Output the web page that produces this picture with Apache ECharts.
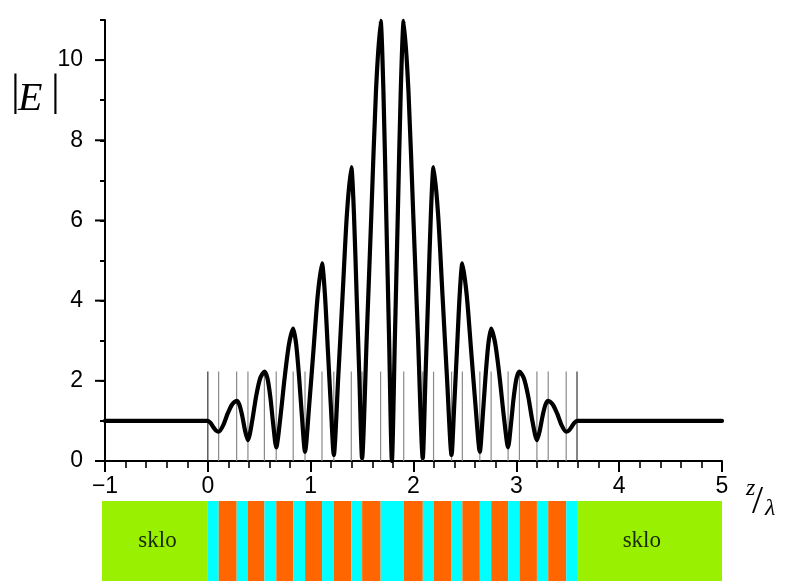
<!DOCTYPE html>
<html><head><meta charset="utf-8">
<script src="https://cdn.jsdelivr.net/npm/echarts@6/dist/echarts.min.js"></script>
<style>html,body{margin:0;padding:0;background:#fff}#c{width:785px;height:581px;background:#fff}</style>
</head><body><div id="c"></div>
<script>
// ---- data ----
const zPositions = [-1, 0, 0.026, 0.052, 0.079, 0.105, 0.149, 0.1925, 0.236, 0.28, 0.3075, 0.335, 0.3625, 0.39,
  0.43, 0.47, 0.51, 0.55, 0.579, 0.6075, 0.636, 0.665, 0.706, 0.7475, 0.789, 0.83, 0.859, 0.8875, 0.916, 0.945,
  0.986, 1.0275, 1.069, 1.11, 1.139, 1.1675, 1.196, 1.225, 1.2675, 1.31, 1.3525, 1.395, 1.421, 1.4475, 1.474, 1.50,
  1.545, 1.59, 1.635, 1.68, 1.7075, 1.735, 1.7625, 1.79, 1.819, 1.8475, 1.876, 1.905,
  1.951, 1.9975, 2.044, 2.09, 2.116, 2.1425, 2.169, 2.195, 2.239, 2.2825, 2.326, 2.37, 2.396, 2.4225, 2.449, 2.475,
  2.5175, 2.56, 2.6025, 2.645, 2.6725, 2.70, 2.7275, 2.755, 2.796, 2.8375, 2.879, 2.92, 2.9475, 2.975, 3.0025, 3.03,
  3.0725, 3.115, 3.1575, 3.20, 3.2275, 3.255, 3.2825, 3.31, 3.354, 3.3975, 3.441, 3.485, 3.511, 3.5375, 3.564, 3.59, 5];
const fieldValues = [1.0, 1.0, 0.95, 0.85, 0.76, 0.73, 0.89, 1.18, 1.41, 1.50, 1.40, 1.12, 0.75, 0.52,
  0.98, 1.62, 2.07, 2.23, 2.07, 1.60, 0.91, 0.34, 1.10, 2.09, 2.91, 3.30, 2.91, 2.09, 1.08, 0.23,
  1.40, 2.77, 4.14, 4.93, 4.14, 2.76, 1.39, 0.15, 2.06, 4.11, 6.16, 7.33, 6.16, 4.10, 2.05, 0.07,
  3.07, 6.15, 9.22, 10.98, 9.22, 6.15, 3.07, 0.0, 3.07, 6.15, 9.22, 10.98,
  9.22, 6.15, 3.07, 0.07, 2.05, 4.10, 6.16, 7.33, 6.16, 4.11, 2.06, 0.15, 1.39, 2.76, 4.14, 4.93,
  4.14, 2.77, 1.40, 0.23, 1.08, 2.09, 2.91, 3.30, 2.91, 2.09, 1.10, 0.34, 0.91, 1.60, 2.07, 2.23,
  2.07, 1.62, 0.98, 0.52, 0.75, 1.12, 1.40, 1.50, 1.41, 1.18, 0.89, 0.73, 0.76, 0.85, 0.95, 1.0, 1.0];

const layerEdges = [0, 0.105, 0.28, 0.39, 0.55, 0.665, 0.83, 0.945, 1.11, 1.225, 1.395, 1.50, 1.68,
  1.905, 2.09, 2.195, 2.37, 2.475, 2.645, 2.755, 2.92, 3.03, 3.20, 3.31, 3.485, 3.59];
const layerMaterials = ['H','L','H','L','H','L','H','L','H','L','H','L','H',
  'L','H','L','H','L','H','L','H','L','H','L','H'];
const edgeLineTop = 2.23;
const glassRegions = [[-1.03, 0], [3.59, 5]];
const glassLabels = [[-0.49, 'sklo'], [4.22, 'sklo']];

const xMin = -1, xMax = 5, xStep = 1;
const yMin = 0, yMax = 11, yStep = 1;
const yLabelValues = [0, 2, 4, 6, 8, 10];
const yMajorTicks = [0, 2, 4, 6, 8, 10];

// ---- chart ----
const materialColor = { H: '#00ffff', L: '#ff6600', G: '#99f000' };
const blocks = [];
glassRegions.forEach(r => blocks.push([r[0], r[1], 'G']));
for (let i = 0; i < layerMaterials.length; i++) blocks.push([layerEdges[i], layerEdges[i + 1], layerMaterials[i]]);

const curve = zPositions.map((z, i) => [z, fieldValues[i]]);
const tickFont = { fontFamily: 'Liberation Sans', fontSize: 23, color: '#000' };

const chart = echarts.init(document.getElementById('c'), null, { renderer: 'canvas' });
chart.setOption({
  animation: false,
  grid: [
    { left: 105, top: 20, width: 617, height: 441 },
    { left: 102, top: 501, width: 620, height: 80 }
  ],
  xAxis: [
    { type: 'value', gridIndex: 0, min: xMin, max: xMax, interval: xStep,
      axisLine: { show: true, onZero: false, lineStyle: { color: '#000', width: 2 } },
      axisTick: { length: 11, lineStyle: { color: '#000', width: 2 } },
      minorTick: { show: true, splitNumber: 5, length: 7, lineStyle: { color: '#000', width: 1.6 } },
      axisLabel: Object.assign({ margin: 14, formatter: v => String(v).replace('-', '\u2212') }, tickFont),
      splitLine: { show: false } },
    { type: 'value', gridIndex: 1, min: glassRegions[0][0], max: xMax, show: false }
  ],
  yAxis: [
    { type: 'value', gridIndex: 0, min: yMin, max: yMax, interval: yStep,
      axisLine: { show: true, onZero: false, lineStyle: { color: '#000', width: 2 } },
      axisTick: { show: true, length: 5, lineStyle: { color: '#000', width: 2 } },
      axisLabel: Object.assign({ margin: 22,
        formatter: v => (yLabelValues.indexOf(v) >= 0 ? String(v) : '') }, tickFont),
      splitLine: { show: false } },
    { type: 'value', gridIndex: 1, min: 0, max: 1, show: false }
  ],
  series: [
    { type: 'custom', xAxisIndex: 0, yAxisIndex: 0, z: 1, silent: true, clip: false,
      data: layerEdges.map(z => [z, edgeLineTop]),
      renderItem: (params, api) => {
        const p0 = api.coord([api.value(0), 0]);
        const p1 = api.coord([api.value(0), api.value(1)]);
        const outer = params.dataIndex === 0 || params.dataIndex === layerEdges.length - 1;
        return { type: 'line', shape: { x1: p0[0], y1: p0[1], x2: p1[0], y2: p1[1] },
          style: { stroke: outer ? '#333' : '#8a8a8a', lineWidth: 1.2 } };
      } },
    // y axis frame line + long ticks, drawn through the axis scales
    { type: 'custom', xAxisIndex: 0, yAxisIndex: 0, z: 10, silent: true, clip: false,
      data: yMajorTicks.map(v => [xMin, v]),
      renderItem: (params, api) => {
        const p = api.coord([xMin, api.value(1)]);
        const children = [{ type: 'line', shape: { x1: p[0] - 10, y1: p[1], x2: p[0], y2: p[1] },
          style: { stroke: '#000', lineWidth: 2 } }];
        if (params.dataIndex === 0) {
          const a = api.coord([xMin, yMin]);
          const b = api.coord([xMin, yMax]);
          children.push({ type: 'line', shape: { x1: a[0], y1: a[1] + 1, x2: b[0], y2: b[1] },
            style: { stroke: '#000', lineWidth: 2 } });
        }
        return { type: 'group', children: children };
      } },
    { type: 'line', xAxisIndex: 0, yAxisIndex: 0, z: 3, data: curve, showSymbol: false, smooth: 0.25,
      lineStyle: { color: '#000', width: 4.2, join: 'round', cap: 'round' },
      markLine: { silent: true, symbol: ['none', 'none'], label: { show: false },
        lineStyle: { color: '#000', width: 2, type: 'solid' },
        data: [[{ coord: [xMin, yMin] }, { coord: [xMin, yMax] }]] } },
    { type: 'custom', xAxisIndex: 1, yAxisIndex: 1, silent: true, clip: false,
      data: blocks.map(b => [b[0], b[1]]),
      renderItem: (params, api) => {
        const p0 = api.coord([api.value(0), 1]);
        const p1 = api.coord([api.value(1), 0]);
        return { type: 'rect', shape: { x: p0[0], y: p0[1], width: p1[0] - p0[0], height: p1[1] - p0[1] },
          style: { fill: materialColor[blocks[params.dataIndex][2]] } };
      } },
    { type: 'custom', xAxisIndex: 1, yAxisIndex: 1, silent: true, z: 5, clip: false,
      data: glassLabels.map(l => [l[0], 0.5]),
      renderItem: (params, api) => {
        const p = api.coord([api.value(0), api.value(1)]);
        return { type: 'text', x: p[0], y: p[1],
          style: { text: glassLabels[params.dataIndex][1], font: '23px "Liberation Serif"', fill: '#1a2a05',
            align: 'center', verticalAlign: 'middle' } };
      } }
  ],
  graphic: [
    { type: 'text', x: 11, y: 93, style: { text: '|', font: '44px "Liberation Serif"', fill: '#000', verticalAlign: 'middle' } },
    { type: 'text', x: 18, y: 99, style: { text: 'E', font: 'italic 40px "Liberation Serif"', fill: '#000', verticalAlign: 'middle' } },
    { type: 'text', x: 51, y: 93, style: { text: '|', font: '44px "Liberation Serif"', fill: '#000', verticalAlign: 'middle' } },
    { type: 'text', x: 746, y: 489, style: { text: 'z', font: 'italic 24px "Liberation Serif"', fill: '#000', verticalAlign: 'middle' } },
    { type: 'text', x: 752, y: 502, style: { text: '/', font: '40px "Liberation Serif"', fill: '#000', verticalAlign: 'middle' } },
    { type: 'text', x: 765, y: 509, style: { text: '\u03bb', font: 'italic 24px "Liberation Serif"', fill: '#000', verticalAlign: 'middle' } }
  ]
});
</script></body></html>
